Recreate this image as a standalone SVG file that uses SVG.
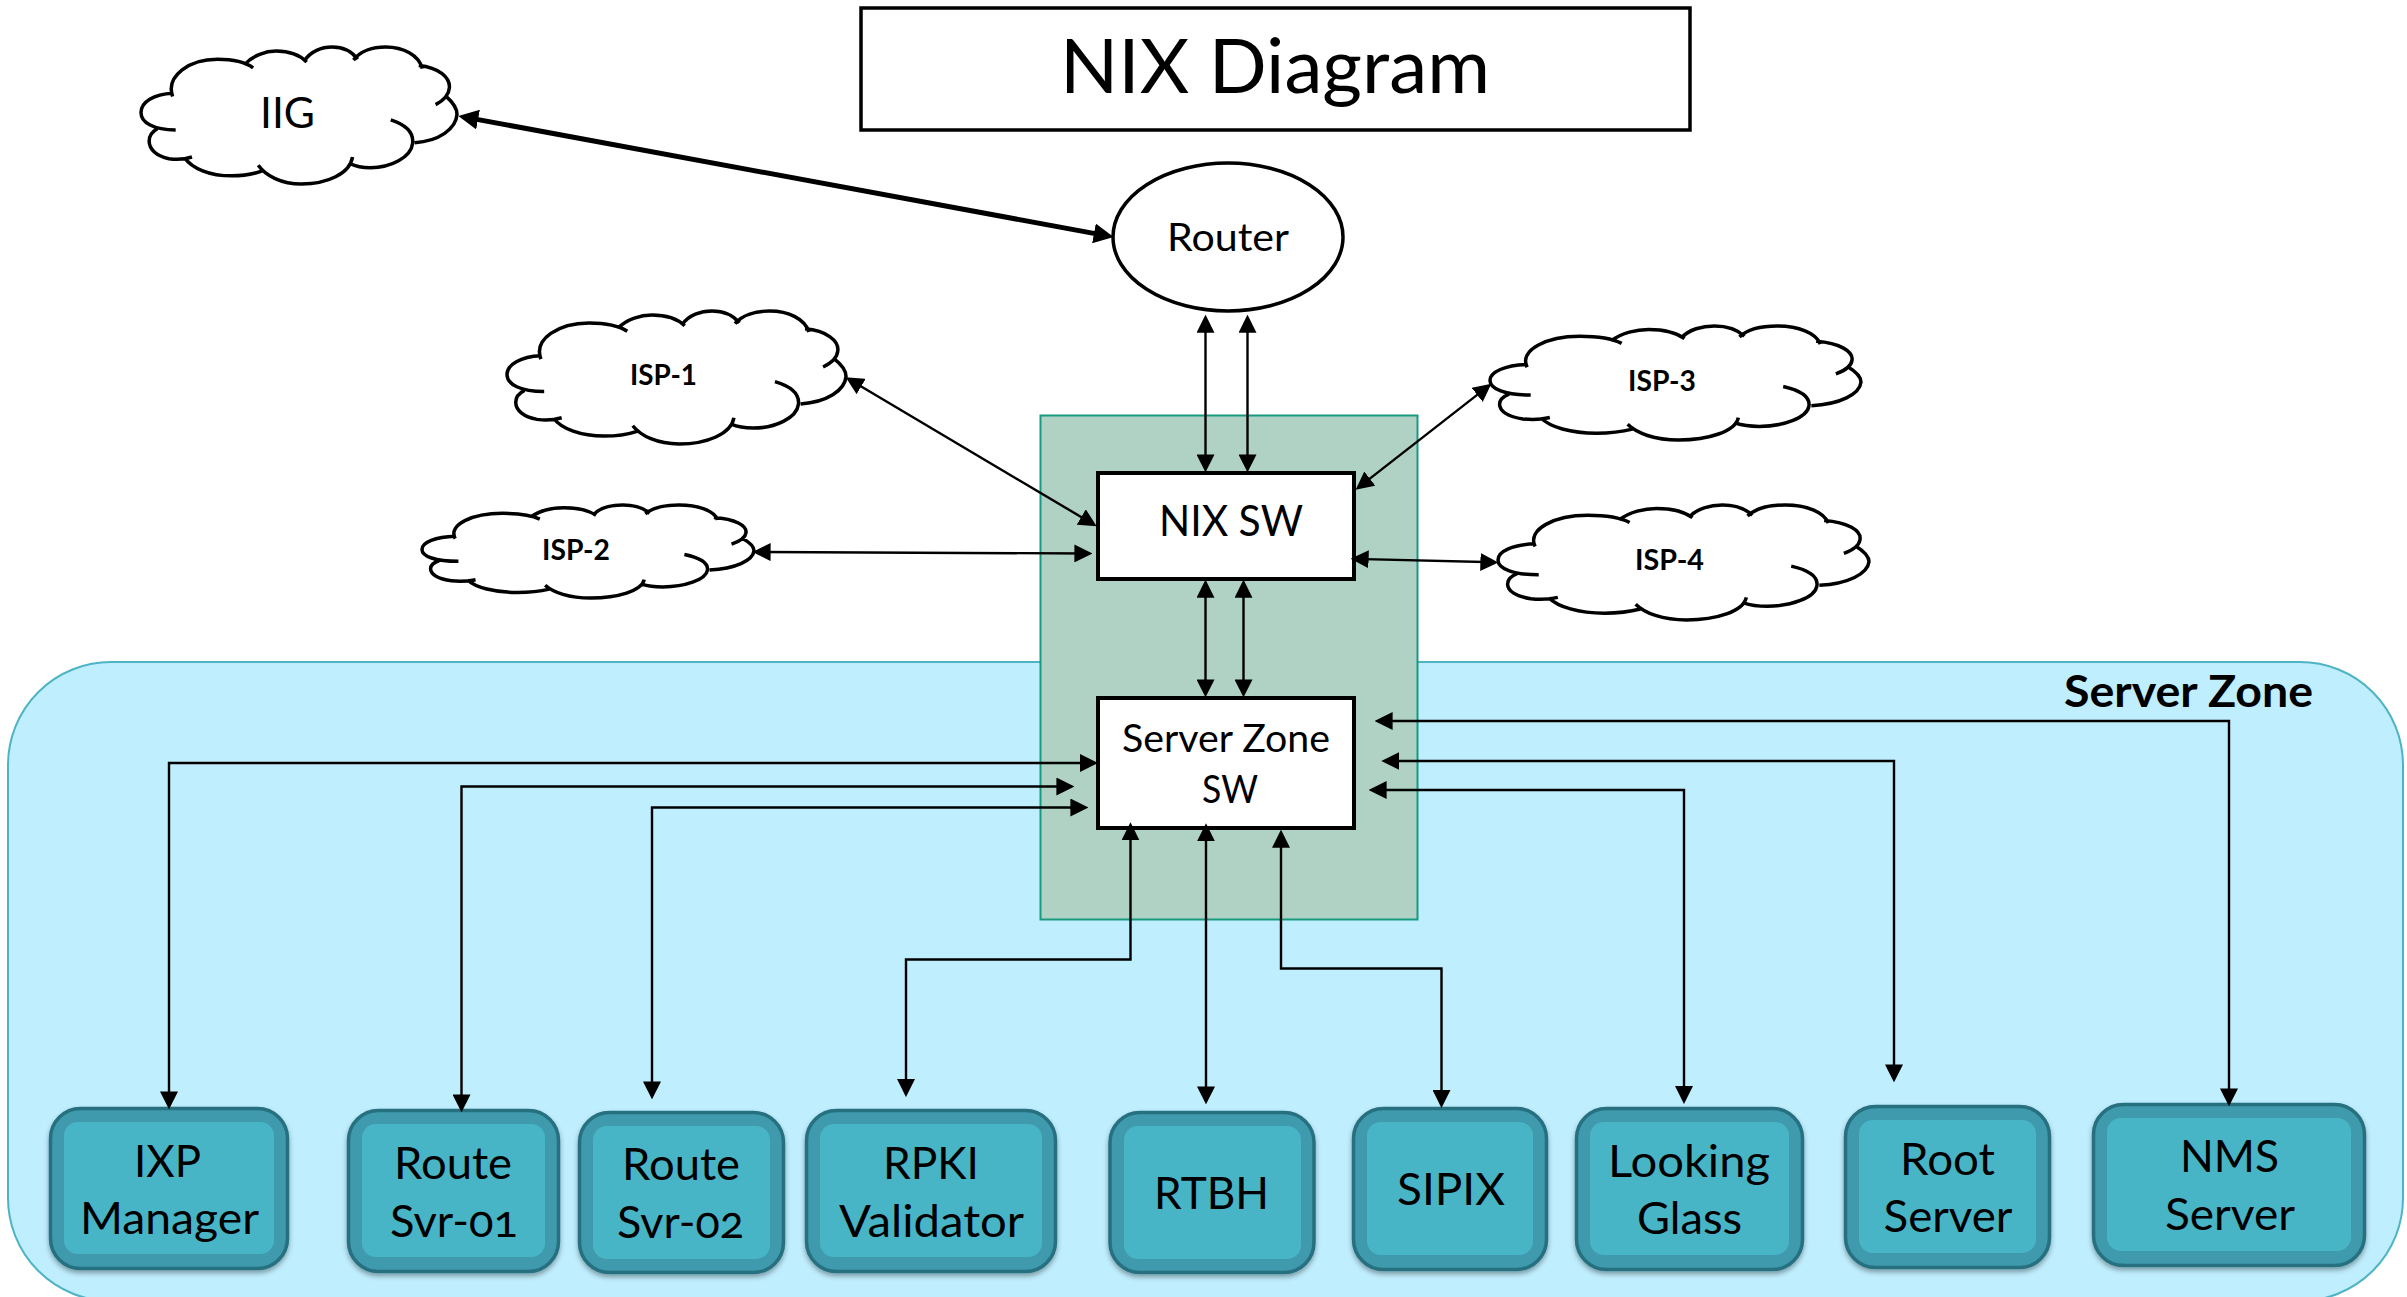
<svg xmlns="http://www.w3.org/2000/svg" xmlns:xlink="http://www.w3.org/1999/xlink" width="2407" height="1297" viewBox="0 0 2407 1297">
<style>
text{font-family:"Lato","Liberation Sans",sans-serif;fill:#000}
.b{font-weight:700}
.n{font-variant-numeric:oldstyle-nums}
.t{font-size:45px}
.cl{fill:none;stroke:#000;stroke-width:3.5;vector-effect:non-scaling-stroke}
.box{fill:#fff;stroke:#000;stroke-width:4}
.o{fill:#3f9aad;stroke:#26707f;stroke-width:3.5;filter:url(#sh)}
.i{fill:#48b5c7}
.c{fill:none;stroke:#000;stroke-width:2.4;marker-start:url(#a);marker-end:url(#a)}
.k{fill:none;stroke:#000;stroke-width:5;marker-start:url(#ak);marker-end:url(#ak)}
</style>
<defs>
<marker id="a" markerUnits="userSpaceOnUse" markerWidth="18" markerHeight="18" viewBox="0 0 16 16" refX="13" refY="8" orient="auto-start-reverse"><path d="M0 0L16 8L0 16Z" fill="#000"/></marker>
<marker id="ak" markerUnits="userSpaceOnUse" markerWidth="20" markerHeight="20" viewBox="0 0 18 18" refX="11" refY="9" orient="auto-start-reverse"><path d="M0 0L18 9L0 18Z" fill="#000"/></marker>
<filter id="sh" x="-10%" y="-10%" width="120%" height="125%"><feDropShadow dx="0" dy="3" stdDeviation="2.5" flood-color="#000" flood-opacity=".35"/></filter>
<path id="cloud" class="cl" d="M148 318C105 318 80 300 80 275C80 250 105 230 142 228M142 236C128 185 175 145 230 145C260 145 285 152 300 166M283 158C300 135 325 125 345 125C372 125 392 135 405 152M400 150C412 125 435 115 455 115C478 115 495 128 505 145M497 147C510 125 535 115 560 115C595 115 625 135 632 168M625 160C665 165 687 190 685 215C684 232 675 245 658 256M678 235C692 250 700 265 700 280C698 315 665 345 617 349M570 293C600 305 615 325 613 350C610 385 570 410 530 410C515 410 500 406 490 400M495 384C490 425 445 450 395 450C355 450 325 430 310 404M318 418C300 426 280 430 258 430C215 430 180 412 165 385M180 384C165 390 145 390 135 388C110 382 96 365 96 345C96 332 102 322 112 315"/>
</defs>
<g id="server-zone"><rect x="8" y="662" width="2395" height="639" rx="103" fill="#bfeefe" stroke="#4fb3c6" stroke-width="2"/>
<text x="2064" y="707" class="b" font-size="44" textLength="249" lengthAdjust="spacingAndGlyphs">Server Zone</text></g>
<rect id="nix-zone" x="1040.5" y="415.5" width="377" height="504" fill="#b0d2c4" stroke="#169a80" stroke-width="2"/>
<g id="title"><rect x="861" y="8" width="829" height="122" fill="#fff" stroke="#000" stroke-width="3.5"/>
<text x="1060" y="93" font-size="76" textLength="430" lengthAdjust="spacingAndGlyphs">NIX Diagram</text></g>
<g id="iig"><use xlink:href="#cloud" href="#cloud" transform="translate(141 47) scale(.5097 .409) translate(-80 -115)"/>
<text x="260" y="128" font-size="42" textLength="55" lengthAdjust="spacingAndGlyphs">IIG</text></g>
<g id="router"><ellipse cx="1228" cy="237" rx="115" ry="74" fill="#fff" stroke="#000" stroke-width="3.5"/>
<text x="1167" y="250.5" font-size="39" textLength="122" lengthAdjust="spacingAndGlyphs">Router</text></g>
<g id="isp-1"><use xlink:href="#cloud" href="#cloud" transform="translate(507 311) scale(.5468 .397) translate(-80 -115)"/>
<text x="630" y="385" class="b" font-size="29" textLength="67" lengthAdjust="spacingAndGlyphs">ISP-1</text></g>
<g id="isp-2"><use xlink:href="#cloud" href="#cloud" transform="translate(422 505) scale(.5355 .2776) translate(-80 -115)"/>
<text x="542" y="560" class="b" font-size="29" textLength="68" lengthAdjust="spacingAndGlyphs">ISP-2</text></g>
<g id="isp-3"><use xlink:href="#cloud" href="#cloud" transform="translate(1490 326) scale(.5984 .3403) translate(-80 -115)"/>
<text x="1628" y="391" class="b" font-size="29" textLength="68" lengthAdjust="spacingAndGlyphs">ISP-3</text></g>
<g id="isp-4"><use xlink:href="#cloud" href="#cloud" transform="translate(1498 505) scale(.5984 .3433) translate(-80 -115)"/>
<text x="1635" y="570" class="b" font-size="29" textLength="69" lengthAdjust="spacingAndGlyphs">ISP-4</text></g>
<g id="nix-sw"><rect class="box" x="1098" y="473" width="256" height="106"/>
<text x="1159" y="535.5" font-size="42" textLength="144" lengthAdjust="spacingAndGlyphs">NIX SW</text></g>
<g id="server-zone-sw"><rect class="box" x="1098" y="698" width="256" height="130"/>
<text x="1122" y="752" font-size="38" textLength="208" lengthAdjust="spacingAndGlyphs">Server Zone</text>
<text x="1202" y="802.5" font-size="38" textLength="56" lengthAdjust="spacingAndGlyphs">SW</text></g>
<g id="ixp-manager"><rect class="o" x="50.5" y="1108.5" width="237" height="160" rx="30"/><rect class="i" x="64" y="1122" width="210" height="132" rx="14"/>
<text class="t" x="134" y="1176.5" textLength="67" lengthAdjust="spacingAndGlyphs">IXP</text><text class="t" x="80" y="1234" textLength="179" lengthAdjust="spacingAndGlyphs">Manager</text></g>
<g id="route-svr-01"><rect class="o" x="348.5" y="1110.5" width="210" height="161" rx="30"/><rect class="i" x="362" y="1124" width="183" height="133" rx="14"/>
<text class="t" x="394" y="1178.5" textLength="118" lengthAdjust="spacingAndGlyphs">Route</text><text class="t n" x="390" y="1236.5" textLength="128" lengthAdjust="spacingAndGlyphs">Svr-01</text></g>
<g id="route-svr-02"><rect class="o" x="579.5" y="1112.5" width="204" height="160" rx="30"/><rect class="i" x="593" y="1126" width="177" height="133" rx="14"/>
<text class="t" x="622" y="1180" textLength="118" lengthAdjust="spacingAndGlyphs">Route</text><text class="t n" x="617" y="1237.5" textLength="127" lengthAdjust="spacingAndGlyphs">Svr-02</text></g>
<g id="rpki-validator"><rect class="o" x="806.5" y="1110.5" width="249" height="161" rx="30"/><rect class="i" x="820" y="1124" width="222" height="133" rx="14"/>
<text class="t" x="883" y="1178.5" textLength="96" lengthAdjust="spacingAndGlyphs">RPKI</text><text class="t" x="839" y="1236.5" textLength="185" lengthAdjust="spacingAndGlyphs">Validator</text></g>
<g id="rtbh"><rect class="o" x="1110" y="1112.5" width="204" height="160" rx="30"/><rect class="i" x="1124" y="1126" width="177" height="133" rx="14"/>
<text class="t" x="1154" y="1209" textLength="115" lengthAdjust="spacingAndGlyphs">RTBH</text></g>
<g id="sipix"><rect class="o" x="1353.5" y="1108.5" width="193" height="161" rx="30"/><rect class="i" x="1367" y="1122" width="166" height="133" rx="14"/>
<text class="t" x="1397" y="1205" textLength="108" lengthAdjust="spacingAndGlyphs">SIPIX</text></g>
<g id="looking-glass"><rect class="o" x="1576.5" y="1108.5" width="226" height="161" rx="30"/><rect class="i" x="1590" y="1122" width="199" height="133" rx="14"/>
<text class="t" x="1608" y="1176.5" textLength="162" lengthAdjust="spacingAndGlyphs">Looking</text><text class="t" x="1637" y="1233.5" textLength="105" lengthAdjust="spacingAndGlyphs">Glass</text></g>
<g id="root-server"><rect class="o" x="1845.5" y="1106.5" width="204" height="161" rx="30"/><rect class="i" x="1859" y="1120" width="177" height="133" rx="14"/>
<text class="t" x="1900" y="1174.5" textLength="95" lengthAdjust="spacingAndGlyphs">Root</text><text class="t" x="1883.5" y="1232" textLength="129" lengthAdjust="spacingAndGlyphs">Server</text></g>
<g id="nms-server"><rect class="o" x="2093.5" y="1104.5" width="271" height="161" rx="30"/><rect class="i" x="2107" y="1118" width="244" height="133" rx="14"/>
<text class="t" x="2180" y="1172" textLength="99" lengthAdjust="spacingAndGlyphs">NMS</text><text class="t" x="2165" y="1230" textLength="130" lengthAdjust="spacingAndGlyphs">Server</text></g>
<g id="connectors">
<path class="k" d="M466 117.4L1106 235.6"/>
<path class="c" d="M1205.5 318V469"/>
<path class="c" d="M1247.5 318V469"/>
<path class="c" d="M1205.5 583V694"/>
<path class="c" d="M1243.5 583V694"/>
<path class="c" d="M848.6 379L1093.8 524.5"/>
<path class="c" d="M756 552L1089 553.5"/>
<path class="c" d="M1488.7 385.9L1358.3 487.6"/>
<path class="c" d="M1495 562.3L1354 558.9"/>
<path class="c" d="M1094.6 763H169V1106"/>
<path class="c" d="M1071 786.5H461.5V1109"/>
<path class="c" d="M1085 807.5H652V1096"/>
<path class="c" d="M1130.5 825.7V959.5H906V1093.7"/>
<path class="c" d="M1206 826.7V1101"/>
<path class="c" d="M1281 833V968.5H1441.5V1104.7"/>
<path class="c" d="M1372 790H1684V1100.7"/>
<path class="c" d="M1384.7 761H1894V1079"/>
<path class="c" d="M1378 721H2229V1103"/>
</g>
</svg>
